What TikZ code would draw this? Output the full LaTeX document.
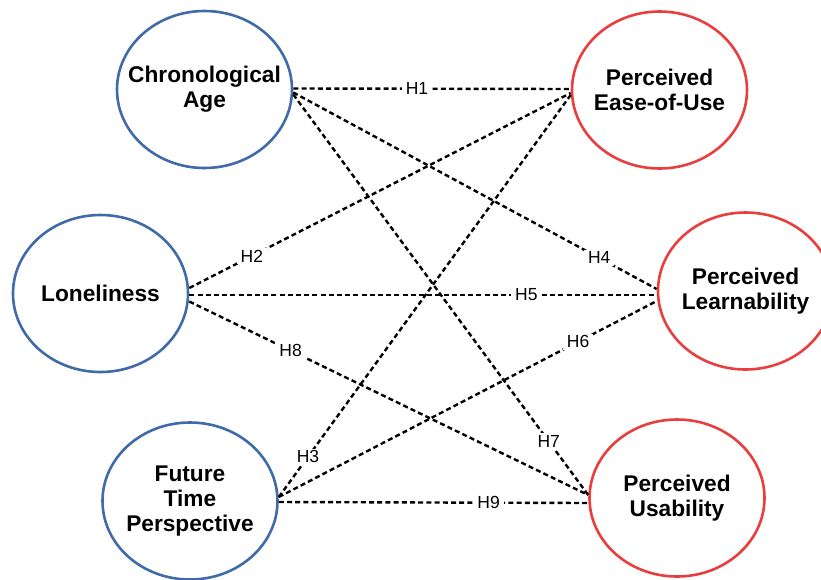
\documentclass[tikz,border=0pt]{standalone}
\usepackage{fontspec}
\setmainfont{Liberation Sans}
\usetikzlibrary{shapes.geometric}
\definecolor{cblue}{RGB}{64,106,168}
\definecolor{cred}{RGB}{232,62,62}
\begin{document}
\begin{tikzpicture}[x=1pt,y=1pt,
  construct/.style={ellipse, draw, line width=2.6pt, minimum width=175pt, minimum height=157pt,
    inner xsep=-20pt, inner ysep=0pt, align=center, font=\fontsize{22.7}{25}\selectfont\bfseries},
  indep/.style={construct, draw=cblue},
  dep/.style={construct, draw=cred},
  hyp/.style={draw=black, line width=2.4pt, dash pattern=on 5pt off 3.2pt},
  hlab/.style={fill=white, inner xsep=4pt, inner ysep=2pt, font=\fontsize{17.5}{19}\selectfont}]
\useasboundingbox (0,0) rectangle (821,-579);
\node[indep] (ca)  at (204.5,-89.5) {Chronological\\Age};
\node[indep] (lo)  at (100.5,-293.5) {Loneliness};
\node[indep] (ftp) at (190,-501) {Future\\Time\\Perspective};
\node[dep] (eu) at (659.5,-90) {Perceived\\Ease-of-Use};
\node[dep] (pl) at (745.5,-291) {Perceived\\Learnability};
\node[dep] (pu) at (677,-498) {Perceived\\Usability};
% hypotheses
\draw[hyp] ([yshift=1pt]ca.east) -- ([yshift=1pt]eu.west) node[hlab, pos=0.446] {H1};
\draw[hyp] ([yshift=-3pt]ca.east) -- ([yshift=2pt]pl.west) node[hlab, pos=0.842] {H4};
\draw[hyp] ([yshift=-5pt]ca.east) -- ([yshift=3pt]pu.west) node[hlab, pos=0.866] {H7};
\draw[hyp] ([yshift=5.5pt]lo.east) -- ([yshift=-3pt]eu.west) node[hlab, pos=0.164] {H2};
\draw[hyp] ([yshift=-1.5pt]lo.east) -- ([yshift=-4pt]pl.west) node[hlab, pos=0.721] {H5};
\draw[hyp] ([yshift=-8pt]lo.east) -- ([yshift=3pt]pu.west) node[hlab, pos=0.254] {H8};
\draw[hyp] ([yshift=4pt]ftp.east) -- ([yshift=-5pt]eu.west) node[hlab, pos=0.1] {H3};
\draw[hyp] ([yshift=4pt]ftp.east) -- ([yshift=-10pt]pl.west) node[hlab, pos=0.792] {H6};
\draw[hyp] ([yshift=-1pt]ftp.east) -- ([yshift=-5pt]pu.west) node[hlab, pos=0.678] {H9};
\end{tikzpicture}
\end{document}
